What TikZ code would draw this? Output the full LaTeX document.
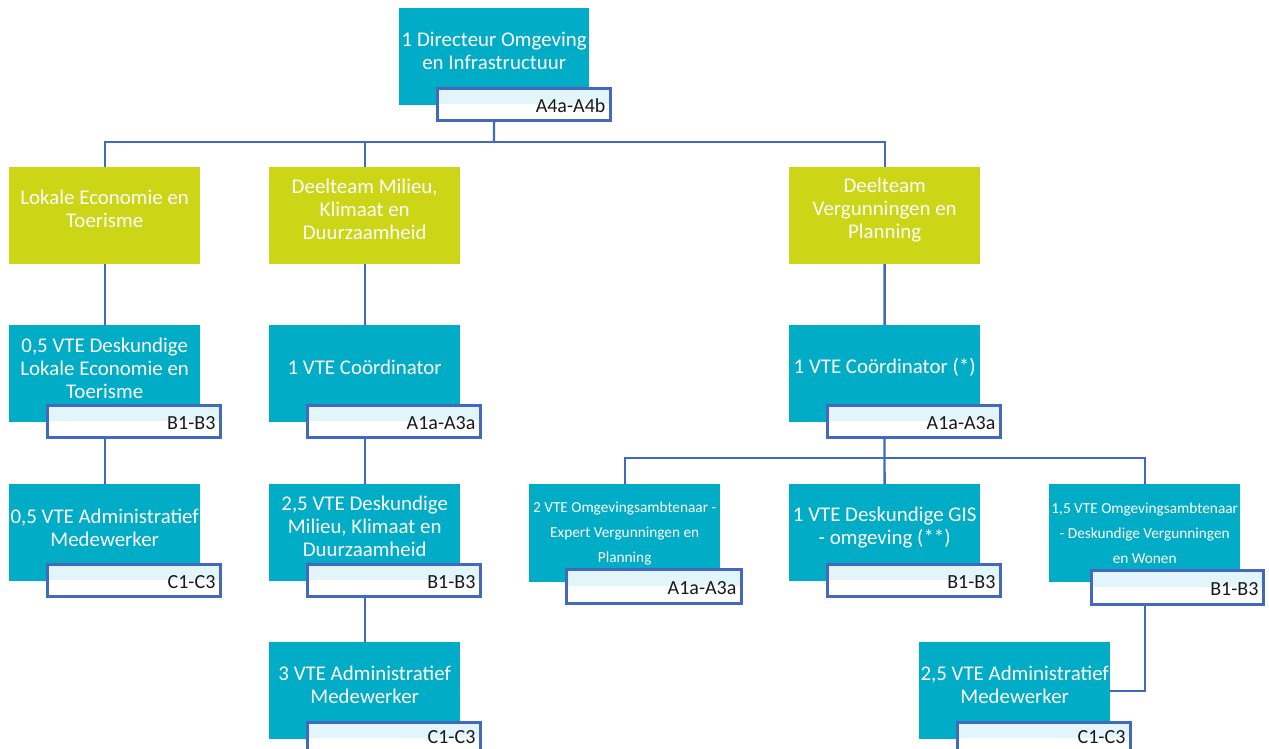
\documentclass[tikz,border=0pt]{standalone}
\usepackage{fontspec}
\setmainfont{Carlito}
\usetikzlibrary{backgrounds}
\definecolor{teal1}{RGB}{0,172,198}
\definecolor{lime1}{RGB}{204,214,22}
\definecolor{conblue}{RGB}{68,104,190}
\definecolor{labtop}{RGB}{226,245,250}
\begin{document}
\begin{tikzpicture}[x=1pt,y=-1pt,
  tealbox/.style={fill=teal1, minimum width=191pt, minimum height=97pt, inner sep=0pt, anchor=north west},
  limebox/.style={fill=lime1, minimum width=191pt, minimum height=97pt, inner sep=0pt, anchor=north west},
  boxtxt/.style={text=white, align=center, font=\fontsize{20.9}{23}\selectfont, inner sep=0pt},
  smalltxt/.style={text=white, align=center, font=\fontsize{15.3}{25}\selectfont, inner sep=0pt},
  gradebox/.style={draw=conblue, line width=2.6pt, minimum width=173pt, minimum height=32pt, inner sep=0pt, anchor=north west, fill=white,
    path picture={\fill[labtop] (path picture bounding box.north west) rectangle (path picture bounding box.east);}},
  gradetxt/.style={font=\fontsize{20}{24}\selectfont, text=black!90, anchor=base east, inner sep=0pt},
  conn/.style={draw=conblue, line width=2.4pt}]
\useasboundingbox (0,0) rectangle (1269,749);
\clip (0,0) rectangle (1269,749);

% top
\node[tealbox, minimum width=190pt] (T) at (399,8) {};
\node[boxtxt] (Tt) at ([yshift=6pt]T.center) {1 Directeur Omgeving\\en Infrastructuur};
\node[gradebox] (TL) at (436,87) {};
\node[gradetxt] (TLt) at ([xshift=-6pt,yshift=9pt]TL.south east) {A4a-A4b};

% green row
\node[limebox] (G1) at (9,167) {};
\node[boxtxt] (G1t) at ([yshift=7pt]G1.center) {Lokale Economie en\\Toerisme};
\node[limebox] (G2) at (269,167) {};
\node[boxtxt] (G2t) at ([yshift=6pt]G2.center) {Deelteam Milieu,\\Klimaat en\\Duurzaamheid};
\node[limebox] (G3) at (789,167) {};
\node[boxtxt] (G3t) at ([yshift=6pt]G3.center) {Deelteam\\Vergunningen en\\Planning};

% row 2
\node[tealbox] (R1) at (9,325) {};
\node[boxtxt] (R1t) at ([yshift=5pt]R1.center) {0,5 VTE Deskundige\\Lokale Economie en\\Toerisme};
\node[gradebox] (R1L) at (46,404) {};
\node[gradetxt] (R1Lt) at ([xshift=-6pt,yshift=9pt]R1L.south east) {B1-B3};

\node[tealbox] (C2) at (269,325) {};
\node[boxtxt] (C2t) at ([yshift=6pt]C2.center) {1 VTE Coördinator};
\node[gradebox] (C2L) at (306,404) {};
\node[gradetxt] (C2Lt) at ([xshift=-6pt,yshift=9pt]C2L.south east) {A1a-A3a};

\node[tealbox] (C3) at (789,325) {};
\node[boxtxt] (C3t) at ([yshift=6pt]C3.center) {1 VTE Coördinator (*)};
\node[gradebox] (C3L) at (826,404) {};
\node[gradetxt] (C3Lt) at ([xshift=-6pt,yshift=9pt]C3L.south east) {A1a-A3a};

% row 3
\node[tealbox] (A1) at (9,484) {};
\node[boxtxt] (A1t) at ([yshift=5pt]A1.center) {0,5 VTE Administratief\\Medewerker};
\node[gradebox] (A1L) at (46,563) {};
\node[gradetxt] (A1Lt) at ([xshift=-6pt,yshift=9pt]A1L.south east) {C1-C3};

\node[tealbox] (D2) at (269,484) {};
\node[boxtxt] (D2t) at ([yshift=6pt]D2.center) {2,5 VTE Deskundige\\Milieu, Klimaat en\\Duurzaamheid};
\node[gradebox] (D2L) at (306,563) {};
\node[gradetxt] (D2Lt) at ([xshift=-6pt,yshift=9pt]D2L.south east) {B1-B3};

\node[tealbox, minimum height=98pt] (K1) at (529,484) {};
\node[smalltxt] (K1t) at (K1.center) {2 VTE Omgevingsambtenaar -\\Expert Vergunningen en\\Planning};
\node[gradebox, minimum width=175pt, minimum height=34pt] (K1L) at (565,568) {};
\node[gradetxt] (K1Lt) at ([xshift=-6pt,yshift=10pt]K1L.south east) {A1a-A3a};

\node[tealbox] (K2) at (789,484) {};
\node[boxtxt] (K2t) at ([yshift=5pt]K2.center) {1 VTE Deskundige GIS\\- omgeving (**)};
\node[gradebox] (K2L) at (826,563) {};
\node[gradetxt] (K2Lt) at ([xshift=-6pt,yshift=9pt]K2L.south east) {B1-B3};

\node[tealbox, minimum height=98pt] (K3) at (1049,484) {};
\node[smalltxt] (K3t) at (K3.center) {1,5 VTE Omgevingsambtenaar\\- Deskundige Vergunningen\\en Wonen};
\node[gradebox, minimum width=172pt, minimum height=34pt] (K3L) at (1090,569) {};
\node[gradetxt] (K3Lt) at ([xshift=-6pt,yshift=10pt]K3L.south east) {B1-B3};

% row 4
\node[tealbox] (E2) at (269,642) {};
\node[boxtxt] (E2t) at ([yshift=5.5pt]E2.center) {3 VTE Administratief\\Medewerker};
\node[gradebox] (E2L) at (306,721) {};
\node[gradetxt] (E2Lt) at ([xshift=-6pt,yshift=12pt]E2L.south east) {C1-C3};

\node[tealbox] (F) at (919,642) {};
\node[boxtxt] (Ft) at ([yshift=5.5pt]F.center) {2,5 VTE Administratief\\Medewerker};
\node[gradebox] (FL) at (956,721) {};
\node[gradetxt] (FLt) at ([xshift=-6pt,yshift=12pt]FL.south east) {C1-C3};

% connectors
\begin{scope}[on background layer]
\fill[white] (0,0) rectangle (1269,749);
\coordinate (bus1) at (494,142);
\coordinate (bus2) at (884.5,458);
\draw[conn] (T.center) -- (bus1);
\draw[conn] (G1.north) |- (bus1) -| (G3.north);
\draw[conn] (G2.north) -- (G2.north |- bus1);
\draw[conn] (G1.center) -- (A1.center);
\draw[conn] (G2.center) -- (E2.center);
\draw[conn] (G3.center) -- (bus2);
\draw[conn] (K1.center) |- (bus2) -| (K3.center);
\draw[conn] (K2.center) -- (bus2);
\draw[conn] (K3.center) |- (F.east);
\end{scope}
\end{tikzpicture}
\end{document}
